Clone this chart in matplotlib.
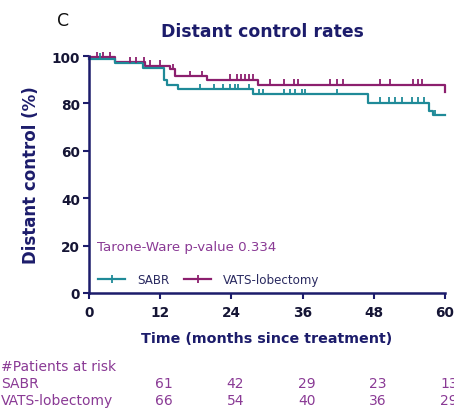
import matplotlib
matplotlib.use('Agg')
import matplotlib.pyplot as plt
from matplotlib.lines import Line2D

plt.rcParams['font.family'] = ['DejaVu Sans']

# step curves (time in months, distant control %)
sabr_t = [0, 4.4, 9.1, 12.7, 13.1, 15.0, 27.7, 47.1, 57.4, 58.0, 60]
sabr_y = [99, 97, 95, 90, 88, 86, 84, 80.3, 77, 75, 75]
vats_t = [0, 4.4, 9.4, 13.6, 14.5, 19.9, 28.5, 60]
vats_y = [99.5, 97.5, 96, 94.5, 91.5, 90, 88, 88]
vats_end = 85

# censored observations
sabr_cens = [1.9, 18.7, 21.0, 22.6, 23.8, 24.6, 25.2, 26.9, 28.6, 29.4,
             32.8, 33.9, 34.7, 35.9, 36.4, 41.8, 49.1, 50.5, 51.6, 52.7,
             54.4, 55.5, 56.4, 58.4]
vats_cens = [1.3, 2.4, 3.5, 6.9, 8.0, 9.2, 10.3, 12.0, 14.2, 17.0, 19.0,
             23.8, 24.9, 25.7, 26.3, 26.9, 27.7, 30.5, 32.8, 34.5, 35.3,
             40.6, 41.8, 42.9, 49.1, 50.8, 54.7, 55.5, 56.1]

risk_times = [12, 24, 36, 48, 60]
sabr_risk = [61, 42, 29, 23, 13]
vats_risk = [66, 54, 40, 36, 29]

teal = '#1f8a98'
purple = '#8c1f6e'
navy = '#1c1c6b'
txt_purple = '#8a3a95'


def level_at(ts, ys, t):
    v = ys[0]
    for ti, yi in zip(ts, ys):
        if ti <= t:
            v = yi
    return v


fig = plt.figure(figsize=(4.54, 4.14), dpi=100)
ax = fig.add_axes([0.196, 0.290, 0.784, 0.572])

ax.step(vats_t + [60], vats_y + [vats_end], where='post', color=purple, lw=1.6, clip_on=False)
ax.step(sabr_t, sabr_y, where='post', color=teal, lw=1.6, clip_on=False)
ax.plot(vats_cens, [level_at(vats_t, vats_y, t) + 1.0 for t in vats_cens], ls='none',
        marker='|', ms=5, mew=1.3, color=purple, clip_on=False)
ax.plot(sabr_cens, [level_at(sabr_t, sabr_y, t) + 1.0 for t in sabr_cens], ls='none',
        marker='|', ms=5, mew=1.3, color=teal, clip_on=False)

ax.set_xlim(0, 60)
ax.set_ylim(0, 100)
ax.set_xticks([0, 12, 24, 36, 48, 60])
ax.set_yticks([0, 20, 40, 60, 80, 100])
for s in ['top', 'right']:
    ax.spines[s].set_visible(False)
for s in ['left', 'bottom']:
    ax.spines[s].set_color(navy)
    ax.spines[s].set_linewidth(1.8)
ax.tick_params(colors=navy, width=1.5, length=4.5, direction='out', labelsize=9.8, pad=2)
ax.tick_params(axis='x', pad=4.5)
for lab in ax.get_xticklabels() + ax.get_yticklabels():
    lab.set_fontweight('bold')
    lab.set_color('#151535')

ax.set_ylabel('Distant control (%)', fontsize=12, fontweight='bold', color=navy)
ax.yaxis.set_label_coords(-0.138, 0.5)
ax.set_xlabel('Time (months since treatment)', fontsize=10.3, fontweight='bold', color=navy)
ax.xaxis.set_label_coords(0.5, -0.16)
fig.text(0.577, 0.923, 'Distant control rates', fontsize=12.4, fontweight='bold',
         color=navy, ha='center', va='center')
fig.text(0.139, 0.949, 'C', fontsize=12.5, color='#111111', ha='center', va='center')

ax.text(1.3, 19.5, 'Tarone-Ware p-value 0.334', fontsize=9.6, color=txt_purple, va='center')

handles = [Line2D([], [], color=teal, lw=1.6, marker='|', ms=6, mew=1.3),
           Line2D([], [], color=purple, lw=1.6, marker='|', ms=6, mew=1.3)]
ax.legend(handles, ['SABR', 'VATS-lobectomy'], loc='lower left', bbox_to_anchor=(-0.005, -0.015),
          ncol=2, frameon=False, fontsize=8.6, handlelength=2.3, handletextpad=1.0,
          columnspacing=1.2, labelcolor='#2a2a60')

# patients at risk table
rows_y = [1 - 367 / 414, 1 - 384 / 414, 1 - 401 / 414]
fig.text(0.003, rows_y[0], '#Patients at risk', fontsize=10, color=txt_purple, va='center')
fig.text(0.003, rows_y[1], 'SABR', fontsize=10, color=txt_purple, va='center')
fig.text(0.003, rows_y[2], 'VATS-lobectomy', fontsize=10, color=txt_purple, va='center')
for t, a, b in zip(risk_times, sabr_risk, vats_risk):
    xf = 0.196 + 0.784 * (t + 0.7) / 60
    fig.text(xf, rows_y[1], str(a), fontsize=10, color=txt_purple, ha='center', va='center')
    fig.text(xf, rows_y[2], str(b), fontsize=10, color=txt_purple, ha='center', va='center')

fig.savefig('out.png', dpi=100)
